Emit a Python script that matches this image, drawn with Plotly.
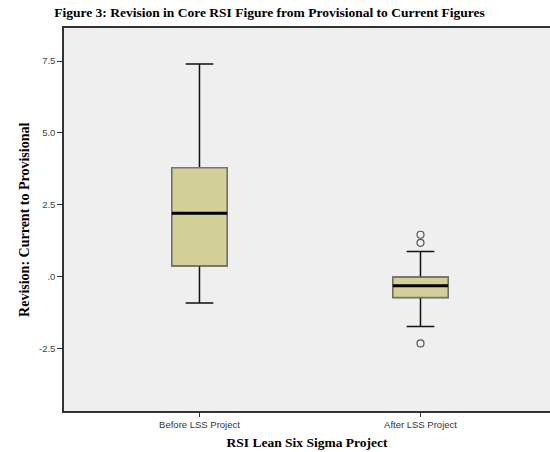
import plotly.graph_objects as go

categories = ["Before LSS Project", "After LSS Project"]
q1 = [0.38, -0.72]
median = [2.21, -0.31]
q3 = [3.79, -0.02]
lower_whisker = [-0.91, -1.73]
upper_whisker = [7.40, 0.88]
outlier_x = [1, 1, 1]
outlier_y = [1.46, 1.18, -2.32]
ytick_vals = [7.5, 5.0, 2.5, 0.0, -2.5]
ytick_text = ["7.5", "5.0", "2.5", ".0", "-2.5"]

BOX_W = 0.25
FILL = "#d3cf98"
serif = "Liberation Serif, Times New Roman, serif"
sans = "Liberation Sans, Arial, sans-serif"

fig = go.Figure()
xs = list(range(len(categories)))

# full box with black whiskers
fig.add_trace(go.Box(
    x=xs, q1=q1, median=median, q3=q3,
    lowerfence=lower_whisker, upperfence=upper_whisker,
    width=BOX_W, whiskerwidth=0.5, fillcolor=FILL,
    line=dict(color="#111111", width=1.5), boxpoints=False,
    hoverinfo="skip", showlegend=False,
))
# box body with grey outline
fig.add_trace(go.Box(
    x=xs, q1=q1, median=median, q3=q3,
    lowerfence=q1, upperfence=q3,
    width=BOX_W, whiskerwidth=1, fillcolor=FILL,
    line=dict(color="#76766a", width=1.5), boxpoints=False,
    hoverinfo="skip", showlegend=False,
))
# thick median lines
for i, m in zip(xs, median):
    fig.add_trace(go.Scatter(
        x=[i - BOX_W / 2, i + BOX_W / 2], y=[m, m], mode="lines",
        line=dict(color="black", width=3), showlegend=False, hoverinfo="skip",
    ))
# outliers
fig.add_trace(go.Scatter(
    x=outlier_x, y=outlier_y, mode="markers",
    marker=dict(symbol="circle-open", size=7, color="#555555", line=dict(width=1.2)),
    showlegend=False,
))

fig.update_layout(
    width=550, height=452,
    margin=dict(l=64, r=0, t=28, b=41),
    paper_bgcolor="white", plot_bgcolor="#efefef",
    boxmode="overlay",
    title=dict(text="<b>Figure 3: Revision in Core RSI Figure from Provisional to Current Figures</b>",
               x=0.49, xanchor="center", y=0.973, yanchor="middle",
               font=dict(family=serif, size=13.5, color="black")),
    xaxis=dict(range=[-0.613, 1.586], tickvals=xs, ticktext=categories,
               showgrid=False, zeroline=False, showline=True, mirror=True,
               linecolor="#333333", linewidth=1.5, ticks="outside", ticklen=4,
               tickcolor="#333333", tickfont=dict(family=sans, size=9.5, color="#333333"),
               title=dict(text="<b>RSI Lean Six Sigma Project</b>", standoff=8,
                          font=dict(family=serif, size=13.5, color="black"))),
    yaxis=dict(range=[-4.67, 8.65], tickvals=ytick_vals, ticktext=ytick_text,
               showgrid=False, zeroline=False, showline=True, mirror=False,
               linecolor="#333333", linewidth=1.5, ticks="outside", ticklen=5,
               tickcolor="#333333", tickfont=dict(family=sans, size=9.5, color="#444444")),
    annotations=[dict(text="<b>Revision: Current to Provisional</b>", textangle=-90,
                      xref="paper", yref="paper", x=-0.0814, y=0.5,
                      xanchor="center", yanchor="middle", showarrow=False,
                      font=dict(family=serif, size=14, color="black"))],
)

fig.write_html("out.html", config={"displayModeBar": False},
               post_script="document.body.style.margin='0';")
